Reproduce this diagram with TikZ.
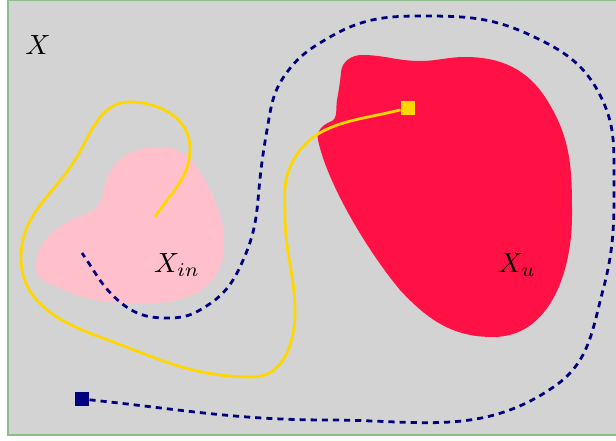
\documentclass[tikz,border=0pt]{standalone}
\usepackage{amsmath,amssymb}
\usepackage{tikz}
\usetikzlibrary{arrows,positioning}
\definecolor{framegreen}{RGB}{140,190,140}
\definecolor{setgray}{RGB}{211,211,211}
\definecolor{unsafered}{RGB}{255,17,70}
\definecolor{initpink}{RGB}{255,192,203}
\definecolor{trajgold}{RGB}{255,215,0}
\definecolor{trajnavy}{RGB}{0,0,128}

\begin{document}
\begin{tikzpicture}[
x=0.36pt, y=0.36pt,
set label/.style={font=\normalsize},
end point/.style={rectangle, minimum size=5pt, inner sep=0pt},
safe traj/.style={trajnavy, line width=1pt, dash pattern=on 2.2pt off 1.8pt},
bad traj/.style={trajgold, line width=1pt}
	]
	\useasboundingbox (0,0) rectangle (616,440);
	% Sets
	\draw[fill=setgray, draw=framegreen, line width=0.6pt] (8,5) rectangle (630,439.6);
	\fill[initpink] (36,172) to[out=90,in=200] (88,227) to[out=20,in=-120] (110,268)
		to[out=60,in=180] (160,293) to[out=0,in=115] (210,250)
		to[out=-65,in=90] (224,195) to[out=-90,in=20] (187,143)
		to[out=200,in=0] (140,137) to[out=180,in=-25] (60,152)
		to[out=155,in=-90] cycle;
	\fill[unsafered] (362,385) to[out=0,in=180] (420,379) to[out=0,in=180] (465,383)
		to[out=0,in=122] (547,340) to[out=-58,in=90] (572,225)
		to[out=-90,in=0] (493,103) to[out=180,in=-47] (400,150)
		to[out=130,in=-78,looseness=0.7] (318,300)
		to[out=102,in=-160] (330,318) to[out=20,in=-100] (337,340)
		to[out=80,in=-95] (341,368) to[out=85,in=180] cycle;
	% Labels
	\node[set label] (X) at (38,395) {$X$};
	\node[set label] (Xin) at (177,175) {$X_{in}$};
	\node[set label] (Xu) at (517,175) {$X_u$};
	% Nodes
	\coordinate (ystart) at (155,223);
	\coordinate (nend) at (82,187);
	\node[end point, fill=trajgold] (ysq) at (408,332) {};
	\node[end point, fill=trajnavy] (nsq) at (82,41) {};
	% Trajectories
	\draw[bad traj] (ystart) to[out=57,in=-90] (190,292) to[out=90,in=0] (130,338)
		to[out=180,in=60] (78,285) to[out=240,in=90] (21,182)
		to[out=270,in=160] (100,103) to[out=340,in=180] (253,63)
		to[out=0,in=-90] (295,127) to[out=90,in=-90] (285,225)
		to[out=90,in=-115] (291,275) to[out=65,in=-166] (ysq);
	\draw[safe traj] (nsq) to[out=-6,in=180] (330,20) to[out=0,in=-145] (555,54)
		to[out=35,in=-105] (603,150) to[out=75,in=-90] (614,270)
		to[out=90,in=-63] (600,345) to[out=117,in=-25] (530,405)
		to[out=155,in=0] (420,424) to[out=180,in=30] (330,403)
		to[out=210,in=55] (285,365) to[out=235,in=80] (267,310)
		to[out=260,in=85] (258,240) to[out=265,in=65] (240,173)
		to[out=245,in=30] (200,130) to[out=210,in=0] (167,122)
		to[out=180,in=-40] (120,138) to[out=140,in=-55] (nend);
\end{tikzpicture}
\end{document}
